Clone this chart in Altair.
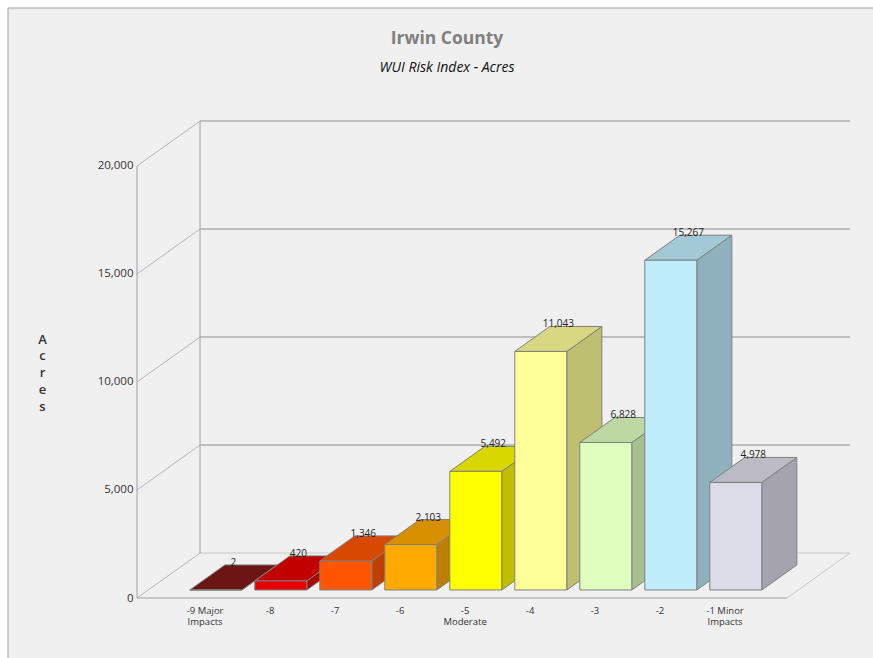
import json
import altair as alt
import pandas as pd

# ---------------- data ----------------
categories = ["-9 Major\nImpacts", "-8", "-7", "-6", "-5\nModerate", "-4", "-3", "-2", "-1 Minor\nImpacts"]
acres = [2, 420, 1346, 2103, 5492, 11043, 6828, 15267, 4978]
front_colors = ["#7e1919", "#e60000", "#ff5500", "#ffaa00", "#ffff00",
                "#ffff99", "#dfffbf", "#bfedfc", "#dcdbe8"]
y_ticks = [0, 5000, 10000, 15000, 20000]
chart_title = "Irwin County"
chart_subtitle = "WUI Risk Index - Acres"
y_title = "Acres"

# ---------------- style / 3-D geometry ----------------
FONT = "Open Sans"
FLOOR_X0, FLOOR_W = -1.04, 10.0          # floor front edge, in category units
DEPTH_X, DEPTH_Y = 0.97, 2083.0          # depth of the box (x: categories, y: acres)
Y_TOP = 20000
BAR_HALF = 0.4
BAR_Z0, BAR_DZ = 0.178, 0.556            # bar position / thickness in depth fraction
TOP_SHADE, SIDE_SHADE = 0.85, 0.75
EDGE = "#7f7f7f"


def shade(c, f):
    r, g, b = (int(c[i:i + 2], 16) for i in (1, 3, 5))
    return "#{:02x}{:02x}{:02x}".format(int(r * f), int(g * f), int(b * f))


zx0, zy0 = BAR_Z0 * DEPTH_X, BAR_Z0 * DEPTH_Y
bdx, bdy = BAR_DZ * DEPTH_X, BAR_DZ * DEPTH_Y

front_rows, side_rows, top_rows, label_rows = [], [], [], []
for i, (v, c) in enumerate(zip(acres, front_colors)):
    xl, xr = i + zx0 - BAR_HALF, i + zx0 + BAR_HALF
    yb, yt = zy0, zy0 + v
    front_rows.append(dict(bar=i, x=xl, x2=xr, y=yb, y2=yt, fill=c))
    sc = shade(c, SIDE_SHADE)
    side_rows += [dict(bar=i, x=xr, y=yt, y2=yb, fill=sc),
                  dict(bar=i, x=xr + bdx, y=yt + bdy, y2=yb + bdy, fill=sc)]
    tc = shade(c, TOP_SHADE)
    top_rows += [dict(bar=i, y=yt, x=xl, x2=xr, fill=tc),
                 dict(bar=i, y=yt + bdy, x=xl + bdx, x2=xr + bdx, fill=tc)]
    label_rows.append(dict(x=i + zx0 + bdx / 2, y=yt + bdy, text=f"{v:,}"))

bx0 = FLOOR_X0 + DEPTH_X
bx1 = FLOOR_X0 + FLOOR_W + DEPTH_X
rule_rows = []
for t in y_ticks:
    rule_rows.append(dict(x=bx0, x2=bx1, y=t + DEPTH_Y, y2=t + DEPTH_Y,
                          c="#c8c8c8" if t == 0 else "#8c8c8c"))
    rule_rows.append(dict(x=FLOOR_X0, x2=bx0, y=t, y2=t + DEPTH_Y, c="#b4b4b4"))
rule_rows.append(dict(x=bx0, x2=bx0, y=DEPTH_Y, y2=Y_TOP + DEPTH_Y, c="#a0a0a0"))
rule_rows.append(dict(x=FLOOR_X0, x2=FLOOR_X0, y=0, y2=Y_TOP, c="#a0a0a0"))
rule_rows.append(dict(x=FLOOR_X0, x2=FLOOR_X0 + FLOOR_W, y=0, y2=0, c="#a0a0a0"))
rule_rows.append(dict(x=FLOOR_X0 + FLOOR_W, x2=bx1, y=0, y2=DEPTH_Y, c="#c8c8c8"))

# ---------------- scales / axes ----------------
xscale = alt.Scale(domain=[FLOOR_X0, bx1], nice=False, zero=False)
yscale = alt.Scale(domain=[0, Y_TOP + DEPTH_Y], nice=False, zero=False)
label_expr = "split(" + json.dumps([c.replace("\n", "|") for c in categories]) + "[datum.value], '|')"

xaxis = alt.Axis(values=list(range(len(categories))), labelExpr=label_expr, title=None,
                 domain=False, ticks=False, tickSize=0, grid=False, labelPadding=7,
                 labelFontSize=9.5, labelColor="#333333", labelLineHeight=11.5,
                 labelOverlap=False, labelFont=FONT, labelAlign="center", labelBaseline="top",
                 zindex=2)
yaxis = alt.Axis(values=y_ticks, labelExpr="format(datum.value, ',')", title=list(y_title),
                 titleAngle=0, titleX=-95, titleY=212, titleAlign="center", titleBaseline="top",
                 titleLineHeight=16.8, titleFontSize=13, titleFont=FONT, titleColor="#333333",
                 titleFontWeight=600,
                 domain=False, ticks=False, tickSize=0, grid=False, labelPadding=4,
                 labelFontSize=11.5, labelColor="#333333", labelFont=FONT, zindex=2)
X = alt.X("x:Q", scale=xscale, axis=xaxis)
Y = alt.Y("y:Q", scale=yscale, axis=yaxis)

# ---------------- layers ----------------
frame = alt.Chart(pd.DataFrame({"k": [0]})).mark_rect(
    fill="#f0f0f0", stroke="#a0a0a0", strokeWidth=1
).encode(x=alt.value(-129), x2=alt.value(745), y=alt.value(-113), y2=alt.value(545))

rules = alt.Chart(pd.DataFrame(rule_rows)).mark_rule(strokeWidth=1).encode(
    x=X, x2="x2:Q", y=Y, y2="y2:Q", stroke=alt.Stroke("c:N", scale=None))

sides = alt.Chart(pd.DataFrame(side_rows)).mark_area(
    stroke=EDGE, strokeWidth=1, opacity=1
).encode(x=X, y=Y, y2="y2:Q", fill=alt.Fill("fill:N", scale=None), detail="bar:N")

tops = alt.Chart(pd.DataFrame(top_rows)).mark_area(
    orient="horizontal", stroke=EDGE, strokeWidth=1, opacity=1
).encode(y=Y, x=X, x2="x2:Q", fill=alt.Fill("fill:N", scale=None), detail="bar:N")

fronts = alt.Chart(pd.DataFrame(front_rows)).mark_rect(stroke=EDGE, strokeWidth=1).encode(
    x=X, x2="x2:Q", y=Y, y2="y2:Q", fill=alt.Fill("fill:N", scale=None))

labels = alt.Chart(pd.DataFrame(label_rows)).mark_text(
    font=FONT, fontSize=10, color="#222222", baseline="middle", dy=-2
).encode(x=X, y=Y, text="text:N")

chart = alt.layer(frame, rules, sides, tops, fronts, labels).properties(
    width=713, height=477,
    autosize=alt.AutoSizeParams(type="none"),
    padding={"left": 137, "top": 121, "right": 23, "bottom": 60},
    background="white",
    title=alt.TitleParams(
        text=chart_title, subtitle=chart_subtitle, anchor="middle", frame="group",
        dx=-46.5, offset=-67, fontSize=17.5, fontWeight="bold", color="#7f7f7f", font=FONT,
        subtitleFont=FONT, subtitleFontSize=14, subtitleFontStyle="italic",
        subtitleColor="#111111", subtitlePadding=13),
).configure_view(stroke=None)

chart.save("out.html", embed_options={"renderer": "svg", "actions": False})
